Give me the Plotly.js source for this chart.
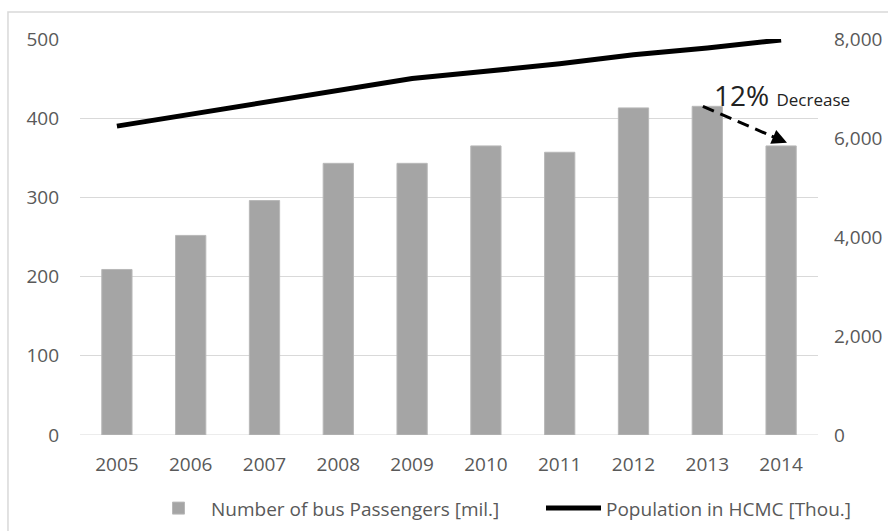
<!DOCTYPE html>
<html>
<head>
<meta charset="utf-8">
<script src="https://cdn.plot.ly/plotly-3.0.1.min.js"></script>
<style>
  html, body { margin: 0; padding: 0; background: #fff; }
  #chart { width: 888px; height: 531px; }
</style>
</head>
<body>
<div id="chart"></div>
<script>
// Data
const years = ["2005", "2006", "2007", "2008", "2009", "2010", "2011", "2012", "2013", "2014"];
const passengers = [209, 252, 296, 343, 343, 365, 357, 413, 415, 365];
const population = [6240, 6483, 6725, 6947, 7201, 7347, 7499, 7681, 7818, 7982];
const passengersName = "Number of bus Passengers [mil.]";
const populationName = "Population in HCMC [Thou.]";
const leftTicks = [0, 100, 200, 300, 400, 500];
const rightTicks = [0, 2000, 4000, 6000, 8000];
const noteBig = "12%";
const noteSmall = "Decrease";

const FONT = "'Open Sans', 'Noto Sans', sans-serif";
const TICK_COLOR = "#595959";
const FS = 19;

const idx = years.map((_, i) => i);
const iFrom = years.indexOf("2013");
const iTo = years.indexOf("2014");

const traces = [
  {
    type: "bar",
    x: idx,
    y: passengers,
    name: passengersName,
    marker: { color: "#a5a5a5", line: { color: "#b8b8b8", width: 1 } },
    yaxis: "y",
    legend: "legend"
  },
  {
    type: "scatter",
    mode: "lines",
    x: idx,
    y: population,
    name: populationName,
    line: { color: "#000000", width: 5 },
    yaxis: "y2",
    legend: "legend2"
  }
];

// dashed arrow from top of 2013 bar to top of 2014 bar
const x0 = iFrom - 0.06, y0 = passengers[iFrom];
const x1 = iTo + 0.08, y1 = passengers[iTo] + 4;
const headFrac = 0.2;
const hx = x0 + (x1 - x0) * (1 - headFrac), hy = y0 + (y1 - y0) * (1 - headFrac);

const legendBase = {
  orientation: "h",
  xanchor: "left",
  y: -0.185, yanchor: "middle",
  font: { family: FONT, size: FS, color: TICK_COLOR },
  itemwidth: 55,
  bgcolor: "rgba(0,0,0,0)"
};

const layout = {
  width: 888,
  height: 531,
  margin: { l: 80, r: 70, t: 39, b: 96, autoexpand: false },
  paper_bgcolor: "#ffffff",
  plot_bgcolor: "#ffffff",
  font: { family: FONT, size: FS, color: TICK_COLOR },
  bargap: 0.59,
  showlegend: true,
  legend: Object.assign({}, legendBase, { x: (146 - 80) / 738 }),
  legend2: Object.assign({}, legendBase, { x: (541 - 80) / 738 }),
  xaxis: {
    type: "linear",
    range: [-0.5, years.length - 0.5],
    tickmode: "array",
    tickvals: idx,
    ticktext: years,
    showgrid: false,
    zeroline: false,
    showline: false,
    ticks: "",
    automargin: false,
    ticklabelstandoff: 16,
    tickfont: { family: FONT, size: FS, color: TICK_COLOR },
    fixedrange: true
  },
  yaxis: {
    range: [0, 500],
    tickmode: "array",
    tickvals: leftTicks,
    ticktext: leftTicks.map(String),
    showgrid: true,
    gridcolor: "#d9d9d9",
    gridwidth: 1,
    zeroline: false,
    showline: false,
    ticks: "",
    automargin: false,
    ticklabelstandoff: 20,
    tickfont: { family: FONT, size: FS, color: TICK_COLOR },
    fixedrange: true
  },
  yaxis2: {
    overlaying: "y",
    side: "right",
    range: [0, 8000],
    tickmode: "array",
    tickvals: rightTicks,
    ticktext: rightTicks.map(v => v.toLocaleString("en-US")),
    showgrid: false,
    zeroline: false,
    showline: false,
    ticks: "",
    automargin: false,
    ticklabelstandoff: 15,
    tickfont: { family: FONT, size: FS, color: TICK_COLOR },
    fixedrange: true
  },
  shapes: [
    {
      type: "rect", xref: "paper", yref: "paper",
      x0: -0.0976, x1: 1.3, y0: -0.5, y1: 1.068,
      line: { color: "#d9d9d9", width: 1.5 },
      fillcolor: "rgba(0,0,0,0)",
      layer: "below"
    },
    {
      type: "line", xref: "x", yref: "y",
      x0: -0.5, y0: 0, x1: years.length - 0.5, y1: 0,
      line: { color: "#d9d9d9", width: 1 },
      layer: "below"
    },
    {
      type: "line", xref: "x", yref: "y",
      x0: x0, y0: y0, x1: hx, y1: hy,
      line: { color: "#000000", width: 3, dash: "12px,7px" }
    }
  ],
  annotations: [
    {
      xref: "x", yref: "y", axref: "x", ayref: "y",
      x: x1, y: y1, ax: hx, ay: hy,
      showarrow: true, arrowhead: 2, arrowsize: 1, arrowwidth: 3,
      arrowcolor: "#000000", text: ""
    },
    {
      xref: "x", yref: "y",
      x: iFrom + 0.07, y: passengers[iFrom] + 14,
      xanchor: "left", yanchor: "middle",
      showarrow: false,
      text: noteBig + " <span style='font-size:17px'>" + noteSmall + "</span>",
      font: { family: FONT, size: 28, color: "#222222" }
    }
  ]
};

Plotly.newPlot("chart", traces, layout, { displayModeBar: false, staticPlot: true });
</script>
</body>
</html>
